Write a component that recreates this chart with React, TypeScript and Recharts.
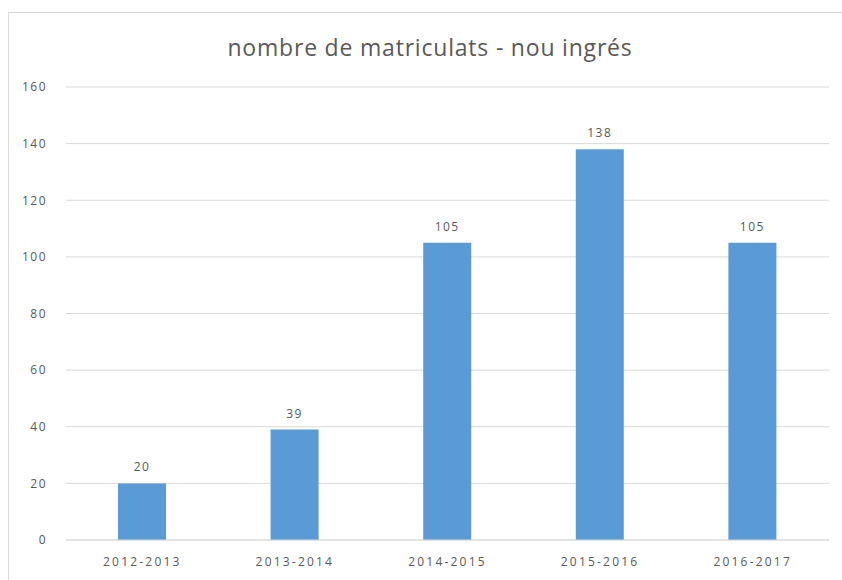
import { BarChart, Bar, XAxis, YAxis, CartesianGrid, LabelList } from "recharts";

const COURSES = ["2012-2013", "2013-2014", "2014-2015", "2015-2016", "2016-2017"];
const ENROLLED = [20, 39, 105, 138, 105];
const Y_TICKS = [0, 20, 40, 60, 80, 100, 120, 140, 160];

const data = COURSES.map((name, i) => ({ name, value: ENROLLED[i] }));

const TEXT = "#595959";
const FONT = "'Open Sans', sans-serif";

export default function App() {
  return (
    <div
      style={{
        position: "fixed",
        left: 0,
        top: 0,
        width: 842,
        height: 580,
        overflow: "hidden",
        background: "#fff",
        fontFamily: FONT,
      }}
    >
      <div
        style={{
          position: "absolute",
          left: 8,
          top: 12,
          width: 850,
          height: 600,
          border: "1px solid #d9d9d9",
        }}
      />
      <div
        style={{
          position: "absolute",
          left: 0,
          top: 31,
          width: 860,
          textAlign: "center",
          fontSize: 23,
          color: TEXT,
          letterSpacing: 0.8,
        }}
      >
        nombre de matriculats - nou ingrés
      </div>
      <div style={{ position: "absolute", left: 0, top: 0 }}>
        <BarChart
          width={842}
          height={580}
          data={data}
          margin={{ top: 87, right: 13, bottom: 0, left: 0 }}
        >
          <CartesianGrid vertical={false} stroke="#d9d9d9" />
          <XAxis
            dataKey="name"
            height={40}
            axisLine={{ stroke: "#d9d9d9" }}
            tickLine={false}
            tickSize={0}
            tickMargin={17}
            tick={{ fill: TEXT, fontSize: 12, fontFamily: FONT, letterSpacing: 2.2 }}
          />
          <YAxis
            width={66}
            domain={[0, 160]}
            ticks={Y_TICKS}
            axisLine={false}
            tickLine={false}
            tickSize={0}
            tickMargin={19}
            tick={{ fill: TEXT, fontSize: 12, fontFamily: FONT, letterSpacing: 1.5 }}
          />
          <Bar dataKey="value" fill="#5b9bd5" barSize={48} isAnimationActive={false}>
            <LabelList
              dataKey="value"
              position="top"
              offset={12}
              fill={TEXT}
              fontSize={12}
              fontFamily={FONT}
              letterSpacing={1.5}
            />
          </Bar>
        </BarChart>
      </div>
    </div>
  );
}
